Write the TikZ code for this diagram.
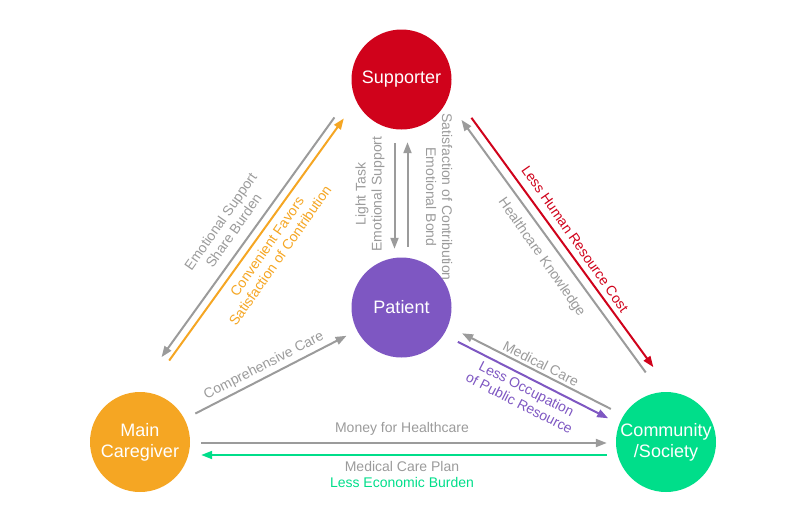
\documentclass[tikz,border=0pt]{standalone}
\usepackage{fontspec}
\setmainfont{Liberation Sans}
\usetikzlibrary{arrows.meta}

\definecolor{suppred}{HTML}{D0021B}
\definecolor{patpurple}{HTML}{7E57C2}
\definecolor{careorange}{HTML}{F5A623}
\definecolor{commgreen}{HTML}{00DE8A}
\definecolor{flowgrey}{HTML}{9B9B9B}

\begin{document}
\begin{tikzpicture}[
	x=1pt, y=-1pt,
	role/.style={
		circle,
		inner sep=0pt,
		minimum size=100pt,
		text=white,
		align=center,
		font=\fontsize{18}{21}\selectfont
	},
	flow/.style={-{Triangle[length=11pt, width=8pt]}, line width=2pt, flowgrey},
	tag/.style={inner sep=0pt, align=center, text=flowgrey, font=\fontsize{14}{16}\selectfont}
]
	\useasboundingbox (0,0) rectangle (803,515);

	\node[role, fill=suppred] (supporter) at (401.5,79.5) {Supporter};
	\node[role, fill=patpurple] (patient) at (401.5,307.5) {Patient};
	\node[role, fill=careorange] (caregiver) at (140,442) {Main\\Caregiver};
	\node[role, fill=commgreen] (community) at (666,442) {Community\\/Society};

	% supporter <-> main caregiver
	\draw[flow, transform canvas={shift={(-26,-19)}}, shorten <=20pt, shorten >=31pt] (supporter) -- (caregiver);
	\draw[flow, careorange, transform canvas={shift={(-19.5,-14)}}, shorten <=33pt, shorten >=15pt] (caregiver) -- (supporter);
	\node[tag, rotate=55] (burden) at (227,226) {Emotional Support\\Share Burden};
	\node[tag, rotate=55, text=careorange] (favors) at (273.5,251) {Convenient Favors\\Satisfaction of Contribution};

	% supporter <-> patient
	\draw[flow, transform canvas={shift={(-7,0)}}, shorten <=13.5pt, shorten >=8.5pt] (supporter) -- (patient);
	\draw[flow, transform canvas={shift={(6,0)}}, shorten <=10.5pt, shorten >=12.5pt] (patient) -- (supporter);
	\node[tag, rotate=90] (task) at (370,194) {Light Task\\Emotional Support};
	\node[tag, rotate=-90] (bond) at (439,197) {Satisfaction of Contribution\\Emotional Bond};

	% supporter <-> community
	\draw[flow, suppred, transform canvas={shift={(27.4,-20)}}, shorten <=22pt, shorten >=17.7pt] (supporter) -- (community);
	\draw[flow, transform canvas={shift={(19.9,-14.5)}}, shorten <=18pt, shorten >=17.7pt] (community) -- (supporter);
	\node[tag, rotate=-55, text=suppred] (hrcost) at (575,239) {Less Human Resource Cost};
	\node[tag, rotate=-55] (knowledge) at (541.5,257.5) {Healthcare Knowledge};

	% main caregiver -> patient
	\draw[flow, shorten <=12pt, shorten >=11.6pt] (caregiver) -- (patient);
	\node[tag, rotate=27] (care) at (264,366) {Comprehensive Care};

	% patient <-> community
	\draw[flow, transform canvas={shift={(2,-4)}}, shorten <=13.9pt, shorten >=15.5pt] (community) -- (patient);
	\draw[flow, patpurple, transform canvas={shift={(-2.3,4.5)}}, shorten <=15.6pt, shorten >=12.1pt] (patient) -- (community);
	\node[tag, rotate=-27] (medcare) at (541,363.5) {Medical Care};
	\node[tag, rotate=-27, text=patpurple] (occupation) at (523,396) {Less Occupation\\of Public Resource};

	% main caregiver <-> community
	\draw[flow, transform canvas={shift={(0,1)}}, shorten <=11pt, shorten >=9pt] (caregiver) -- (community);
	\draw[flow, commgreen, transform canvas={shift={(0,13)}}, shorten <=9pt, shorten >=11pt] (community) -- (caregiver);
	\node[tag] (money) at (402,429) {Money for Healthcare};
	\node[tag] (plan) at (402,474.5) {Medical Care Plan\\\textcolor{commgreen}{Less Economic Burden}};

\end{tikzpicture}
\end{document}
